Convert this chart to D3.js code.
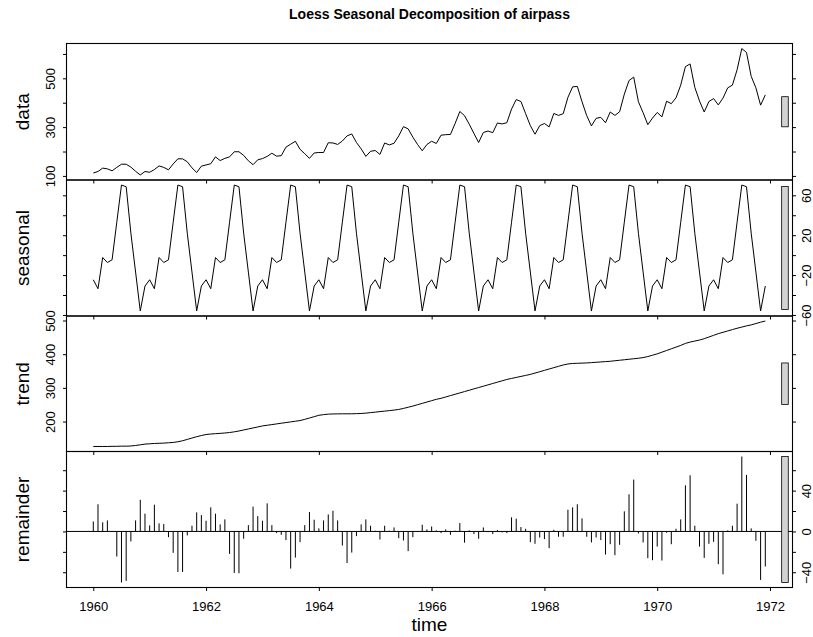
<!DOCTYPE html>
<html><head><meta charset="utf-8">
<script src="https://cdn.jsdelivr.net/npm/d3@7"></script>
<style>
body{margin:0;background:#fff}
svg{display:block}
text{font-family:"Liberation Sans",Arial,Helvetica,sans-serif;fill:#000}
</style>
</head><body>
<svg id="c" width="813" height="637"></svg>
<script>
// ---- data (monthly, starting Jan 1960) ----
const startYear = 1960;
const frequency = 12;
const dataValues = [
112,118,132,129,121,135,148,148,136,119,104,118,
115,126,141,135,125,149,170,170,158,133,114,140,
145,150,178,163,172,178,199,199,184,162,146,166,
171,180,193,181,183,218,230,242,209,191,172,194,
196,196,236,235,229,243,264,272,237,211,180,201,
204,188,235,227,234,264,302,293,259,229,203,229,
242,233,267,269,270,315,364,347,312,274,237,278,
284,277,317,313,318,374,413,405,355,306,271,306,
315,301,356,348,355,422,465,467,404,347,305,336,
340,318,362,348,363,435,491,505,404,359,310,337,
360,342,406,396,420,472,548,559,463,407,362,405,
417,391,419,461,472,535,622,606,508,461,390,432];
const seasonalValues = [
-24.7,-33.7,-2.4,-7.4,-4.7,33,70.3,68.6,22,-17,-56,-31,
-24.7,-33.7,-2.4,-7.4,-4.7,33,70.3,68.6,22,-17,-56,-31,
-24.7,-33.7,-2.4,-7.4,-4.7,33,70.3,68.6,22,-17,-56,-31,
-24.7,-33.7,-2.4,-7.4,-4.7,33,70.3,68.6,22,-17,-56,-31,
-24.7,-33.7,-2.4,-7.4,-4.7,33,70.3,68.6,22,-17,-56,-31,
-24.7,-33.7,-2.4,-7.4,-4.7,33,70.3,68.6,22,-17,-56,-31,
-24.7,-33.7,-2.4,-7.4,-4.7,33,70.3,68.6,22,-17,-56,-31,
-24.7,-33.7,-2.4,-7.4,-4.7,33,70.3,68.6,22,-17,-56,-31,
-24.7,-33.7,-2.4,-7.4,-4.7,33,70.3,68.6,22,-17,-56,-31,
-24.7,-33.7,-2.4,-7.4,-4.7,33,70.3,68.6,22,-17,-56,-31,
-24.7,-33.7,-2.4,-7.4,-4.7,33,70.3,68.6,22,-17,-56,-31,
-24.7,-33.7,-2.4,-7.4,-4.7,33,70.3,68.6,22,-17,-56,-31];
const trendValues = [
126,126,126,126,126.5,126.5,127,127,127.5,129,131,133,
134,135,135.5,136,137,138,140,143,147,151,155,158.5,
161.5,163,164,165,166,167.5,169.5,172,175,178,181,184,
187,189,191,193,195,197,199,201,203,206.5,210.5,214.5,
218.6,220.5,222,222.6,222.8,223,223,223,223.5,224,225,226.5,
228,229.5,231,232.5,234,236,239,242.5,246,250,254,258,
262,266,269,273,277,281,285,289,293,297,301,305,
309,313,317,321,325,328,331,334,337,340,344,348,
352,356,360,364,368,371,372.5,373,373.5,374,375,376,
377,378,379,380.5,382,383.5,385,386.5,388,390,393,397,
401,406,411,416,421,426,432,436,439,442,446,451,
456,461,465,469,473,477,480.5,484,487,491,495,498.5];
const remainderValues = [
9.8,26.6,8.9,10.8,0.5,-24.6,-50,-48.5,-9.8,10.8,31,17.4,
5.9,26.2,7.9,7.2,-5.6,-21,-39.7,-39.7,-3.9,5.6,18.7,16,
10.5,23.6,17.4,6.9,11.8,-22,-40.7,-41,-7.2,6.2,24.3,15,
10.5,27.5,6.2,-1.6,-3.3,-8.5,-36.4,-25.6,-10.5,6.2,19,11.5,
3,10.8,16.7,20.3,10.8,-13.8,-31,-20.7,-4.6,6.9,11.8,5.6,
0.7,-7.9,5.6,0.7,3.9,-6.6,-8.9,-19.3,-5.6,0,6.6,2,
4.9,1,-1.6,2,-3.3,0.7,8.2,-11,1,-2.6,-7.2,3.9,
-0.7,-2.6,1.3,-1,-1.6,13.8,12.5,4.3,2.6,-10.5,-12.1,-6,
-7.5,-16.4,1.6,-5.2,-5.2,21.3,23.6,26.6,12.8,-5.2,-10.8,-5.9,
-8.5,-22.6,-12.5,-23.3,-13.1,19.7,36.4,50.8,-2,-10.8,-26.2,-28.2,
-14.8,-28.5,-1.3,-12.5,2.6,11.8,45.2,55,5.6,-14.8,-25.9,-12.1,
-10.2,-32.1,-42,1,5.6,27.2,73.4,55.4,3,-9.2,-47.5,-34.4];
const xTickValues = [1960,1962,1964,1966,1968,1970,1972];
const dataTicks = [100,200,300,400,500,600], dataTickLabels = [100,300,500];
const seasonalTicks = [-60,-40,-20,0,20,40,60], seasonalTickLabels = [-60,-20,20,60];
const trendTicks = [200,300,400,500], trendTickLabels = [200,300,400,500];
const remainderTicks = [-40,-20,0,20,40,60], remainderTickLabels = [-40,0,40];
const panelNames = ["data","seasonal","trend","remainder"];
const titleText = "Loess Seasonal Decomposition of airpass";
const xLabel = "time";

// ---- layout ----
const svg = d3.select("#c");
const L = 66.5, R = 792.5;
const bounds = [43.5, 180, 316, 451.5, 587.5];
const time = dataValues.map((d, i) => startYear + i / frequency);
const x = d3.scaleLinear().domain([1959.525, 1972.399]).range([L, R]);
const barYears = [1972.207, 1972.324];
const tickLen = 3.5;
const numFmt = d3.format("d");

const panels = [
  {name: panelNames[0], vals: dataValues, ticks: dataTicks, labels: dataTickLabels, right: false, type: "line"},
  {name: panelNames[1], vals: seasonalValues, ticks: seasonalTicks, labels: seasonalTickLabels, right: true, type: "line"},
  {name: panelNames[2], vals: trendValues, ticks: trendTicks, labels: trendTickLabels, right: false, type: "line"},
  {name: panelNames[3], vals: remainderValues, ticks: remainderTicks, labels: remainderTickLabels, right: true, type: "h"}
];

const remExt = d3.extent(remainderValues);
const barSpan = remExt[1] - remExt[0];

panels.forEach((p, k) => {
  const top = bounds[k], bot = bounds[k + 1];
  const ext = d3.extent(p.vals);
  const pad = (ext[1] - ext[0]) * 0.04;
  const y = d3.scaleLinear().domain([ext[0] - pad, ext[1] + pad]).range([bot, top]);
  const g = svg.append("g");

  if (p.type === "line") {
    g.append("path")
      .datum(p.vals)
      .attr("fill", "none").attr("stroke", "#000").attr("stroke-width", 1)
      .attr("d", d3.line().x((d, i) => x(time[i])).y(d => y(d)));
  } else {
    g.append("line").attr("x1", L).attr("x2", R).attr("y1", y(0)).attr("y2", y(0))
      .attr("stroke", "#000").attr("stroke-width", 1);
    g.selectAll("line.bar").data(p.vals).join("line").attr("class", "bar")
      .attr("x1", (d, i) => x(time[i])).attr("x2", (d, i) => x(time[i]))
      .attr("y1", y(0)).attr("y2", d => y(d))
      .attr("stroke", "#000").attr("stroke-width", 1);
  }

  // range bar
  const mid = (ext[0] + ext[1]) / 2;
  g.append("rect")
    .attr("x", x(barYears[0])).attr("width", x(barYears[1]) - x(barYears[0]))
    .attr("y", y(mid + barSpan / 2)).attr("height", y(mid - barSpan / 2) - y(mid + barSpan / 2))
    .attr("fill", "#d3d3d3").attr("stroke", "#000").attr("stroke-width", 0.8);

  // frame
  g.append("rect").attr("x", L).attr("y", top).attr("width", R - L).attr("height", bot - top)
    .attr("fill", "none").attr("stroke", "#000").attr("stroke-width", 1.1);

  // y axes (left and right)
  const fmt = v => p.labels.includes(v) ? numFmt(v) : "";
  const axL = d3.axisLeft(y).tickValues(p.ticks).tickSize(tickLen).tickSizeOuter(0)
    .tickFormat(p.right ? () => "" : fmt);
  const axR = d3.axisRight(y).tickValues(p.ticks).tickSize(tickLen).tickSizeOuter(0)
    .tickFormat(p.right ? fmt : () => "");
  [[axL, L, -16.5], [axR, R, 13.5]].forEach(([ax, pos, off]) => {
    const a = g.append("g").attr("transform", `translate(${pos},0)`).call(ax);
    a.select(".domain").remove();
    a.selectAll(".tick line").attr("stroke", "#000");
    a.selectAll(".tick text")
      .attr("x", 0).attr("y", off).attr("dy", "0.35em")
      .attr("transform", "rotate(-90)").attr("text-anchor", "middle")
      .style("font-size", "13px").style("font-family", '"Liberation Sans",Arial,sans-serif');
  });

  // bottom x ticks for each panel
  const isLast = k === panels.length - 1;
  const axB = d3.axisBottom(x).tickValues(xTickValues).tickSize(tickLen).tickSizeOuter(0)
    .tickFormat(isLast ? numFmt : () => "");
  const ab = g.append("g").attr("transform", `translate(0,${bot})`).call(axB);
  ab.select(".domain").remove();
  ab.selectAll(".tick line").attr("stroke", "#000");
  ab.selectAll(".tick text").attr("y", 14).attr("dy", "0.71em")
    .style("font-size", "13px").style("font-family", '"Liberation Sans",Arial,sans-serif');

  // panel label
  svg.append("text")
    .attr("transform", `translate(29,${(top + bot) / 2}) rotate(-90)`)
    .attr("text-anchor", "middle")
    .style("font-size", "19px")
    .text(p.name);
});

svg.append("text").attr("x", (L + R) / 2).attr("y", 19).attr("text-anchor", "middle")
  .style("font-size", "14px").style("font-weight", "bold").text(titleText);
svg.append("text").attr("x", (L + R) / 2).attr("y", 631).attr("text-anchor", "middle")
  .style("font-size", "19px").text(xLabel);
</script>
</body></html>
